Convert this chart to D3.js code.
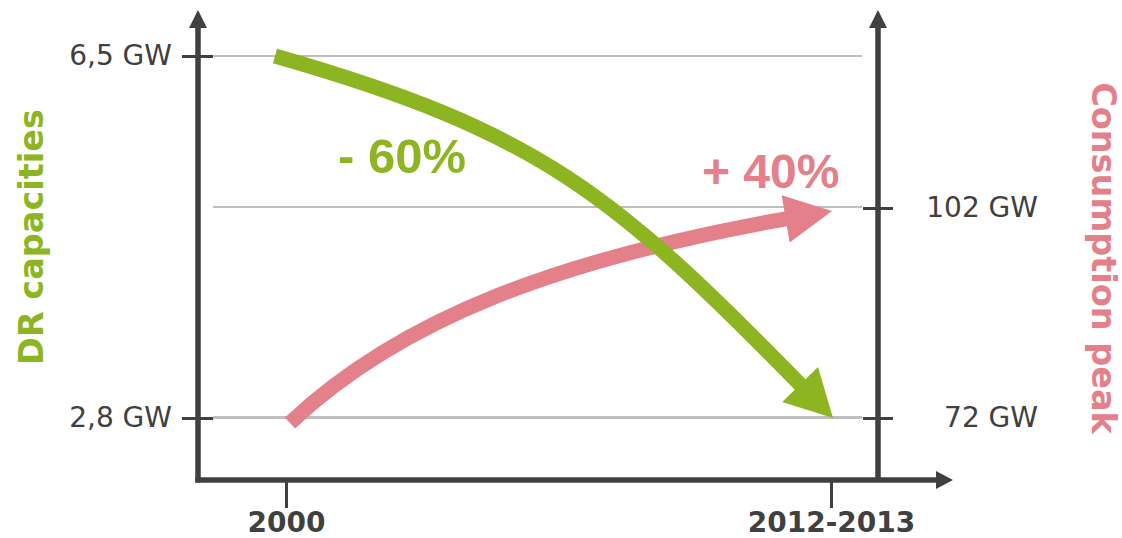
<!DOCTYPE html>
<html>
<head>
<meta charset="utf-8">
<script src="https://cdn.jsdelivr.net/npm/d3@7"></script>
<style>
  html, body { margin: 0; padding: 0; background: #ffffff; }
  svg { display: block; }
</style>
</head>
<body>
<svg id="chart" width="1122" height="538"></svg>
<script>
// ---------------- DATA ----------------
const periods = ["2000", "2012-2013"];
const drCapacities = [6.5, 2.8];          // GW (left axis)
const consumptionPeak = [72, 102];        // GW (right axis)
const leftTickValues = [2.8, 6.5];
const leftTickLabels = ["2,8 GW", "6,5 GW"];
const rightTickValues = [72, 102];
const rightTickLabels = ["72 GW", "102 GW"];
const changeLabels = ["- 60%", "+ 40%"];
const leftTitle = "DR capacities";
const rightTitle = "Consumption peak";

// ---------------- STYLE ----------------
const GREEN = "#8cb521";
const PINK = "#e4808a";
const AXIS = "#404040";
const GRID = "#bfbfbf";
const TICK_FONT = "'DejaVu Sans', Verdana, sans-serif";
const BIG_FONT = "'Liberation Sans', Arial, sans-serif";

const svg = d3.select("#chart");

// ---------------- SCALES ----------------
const x = d3.scalePoint().domain(periods).range([286, 831]);
const yL = d3.scaleLinear().domain([2.8, 6.5]).range([418, 56]);
const yR = d3.scaleLinear().domain([72, 102]).range([418, 208]);

const axisLeftX = 198, axisRightX = 878, axisBottomY = 480;

// ---------------- GRIDLINES ----------------
const gridG = svg.append("g");
gridG.selectAll("line.gl").data(leftTickValues).join("line")
  .attr("x1", 213).attr("x2", 862)
  .attr("y1", d => yL(d)).attr("y2", d => yL(d))
  .attr("stroke", GRID).attr("stroke-width", 2);
gridG.selectAll("line.gr").data(rightTickValues).join("line")
  .attr("x1", 213).attr("x2", 862)
  .attr("y1", d => yR(d) - 1).attr("y2", d => yR(d) - 1)
  .attr("stroke", GRID).attr("stroke-width", 2);

// ---------------- AXES ----------------
function styleAxis(g) {
  g.select(".domain").remove();
  g.selectAll(".tick line").attr("stroke", AXIS).attr("stroke-width", 3);
  g.selectAll(".tick text").attr("fill", AXIS).style("font-family", TICK_FONT).style("font-size", "28px");
}

const gl = svg.append("g").attr("transform", `translate(${axisLeftX},0)`)
  .call(d3.axisLeft(yL).tickValues(leftTickValues).tickFormat((d, i) => leftTickLabels[i]).tickSize(16).tickPadding(10));
styleAxis(gl);
gl.selectAll(".tick line").attr("x1", 15).attr("x2", -16);
gl.selectAll(".tick text").attr("x", -26);

const gr = svg.append("g").attr("transform", `translate(${axisRightX},0)`)
  .call(d3.axisRight(yR).tickValues(rightTickValues).tickFormat((d, i) => rightTickLabels[i]).tickSize(15));
styleAxis(gr);
gr.selectAll(".tick line").attr("x1", -15).attr("x2", 15);
gr.selectAll(".tick text").attr("x", 160).attr("text-anchor", "end");

const gb = svg.append("g").attr("transform", `translate(0,${axisBottomY})`)
  .call(d3.axisBottom(x).tickSize(28));
styleAxis(gb);
gb.selectAll(".tick text").attr("y", 52).attr("dy", 0).style("font-weight", "bold");

// axis lines with arrowheads
const axisG = svg.append("g");
axisG.append("path")
  .attr("d", `M${axisLeftX},${axisBottomY + 2.5}V26`)
  .attr("stroke", AXIS).attr("stroke-width", 5.5).attr("fill", "none");
axisG.append("path")
  .attr("d", `M${axisLeftX},10L${axisLeftX + 9},28L${axisLeftX - 9},28Z`).attr("fill", AXIS);
axisG.append("path")
  .attr("d", `M${axisRightX},${axisBottomY}V26`)
  .attr("stroke", AXIS).attr("stroke-width", 5.5).attr("fill", "none");
axisG.append("path")
  .attr("d", `M${axisRightX},10L${axisRightX + 9},28L${axisRightX - 9},28Z`).attr("fill", AXIS);
axisG.append("path")
  .attr("d", `M${axisLeftX - 2.75},${axisBottomY}H938`)
  .attr("stroke", AXIS).attr("stroke-width", 5.5).attr("fill", "none");
axisG.append("path")
  .attr("d", `M953,${axisBottomY}L936,${axisBottomY - 9}L936,${axisBottomY + 9}Z`).attr("fill", AXIS);

// ---------------- CURVED ARROWS ----------------
function curvedArrow(p0, p3, c1, c2, color, width, headLen, headW) {
  const dx = p3[0] - p0[0], dy = p3[1] - p0[1];
  const p1 = [p0[0] + c1[0] * dx, p0[1] + c1[1] * dy];
  const p2 = [p3[0] - c2[0] * dx, p3[1] - c2[1] * dy];
  const path = d3.path();
  path.moveTo(p0[0], p0[1]);
  path.bezierCurveTo(p1[0], p1[1], p2[0], p2[1], p3[0], p3[1]);
  const el = svg.append("path")
    .attr("d", path.toString())
    .attr("fill", "none").attr("stroke", color).attr("stroke-width", width)
    .attr("stroke-linecap", "butt");
  const node = el.node();
  const L = node.getTotalLength();
  const base = node.getPointAtLength(L - headLen);
  el.attr("stroke-dasharray", `${L - headLen + 3} ${L}`);
  const ux = (p3[0] - base.x), uy = (p3[1] - base.y);
  const n = Math.hypot(ux, uy);
  const dxu = ux / n, dyu = uy / n;
  const bx = p3[0] - dxu * headLen, by = p3[1] - dyu * headLen;
  const px = -dyu * headW / 2, py = dxu * headW / 2;
  svg.append("path")
    .attr("d", `M${p3[0]},${p3[1]}L${bx + px},${by + py}L${bx - px},${by - py}Z`)
    .attr("fill", color);
}

// consumption peak (pink), right axis
curvedArrow(
  [x(periods[0]) + 4, yR(consumptionPeak[0]) + 5],
  [x(periods[1]) + 1, yR(consumptionPeak[1]) + 3],
  [0.22, 0.53], [0.46, 0.19], PINK, 15, 47, 48);

// DR capacities (green), left axis
curvedArrow(
  [x(periods[0]) - 11, yL(drCapacities[0])],
  [x(periods[1]) + 2, yL(drCapacities[1])],
  [0.5, 0.22], [0.38, 0.6], GREEN, 15, 47, 50);

// ---------------- CHANGE LABELS ----------------
svg.append("text").text(changeLabels[0])
  .attr("x", 338).attr("y", 173)
  .attr("fill", GREEN).style("font-family", BIG_FONT).style("font-weight", "bold").style("font-size", "49px");
svg.append("text").text(changeLabels[1])
  .attr("x", 702).attr("y", 188)
  .attr("fill", PINK).style("font-family", BIG_FONT).style("font-weight", "bold").style("font-size", "48px");

// ---------------- AXIS TITLES ----------------
svg.append("text").text(leftTitle)
  .attr("transform", "translate(43,237) rotate(-90)")
  .attr("text-anchor", "middle")
  .attr("fill", GREEN).style("font-family", TICK_FONT).style("font-weight", "bold").style("font-size", "33.5px");
svg.append("text").text(rightTitle)
  .attr("transform", "translate(1092,258) rotate(90)")
  .attr("text-anchor", "middle")
  .attr("fill", PINK).style("font-family", TICK_FONT).style("font-weight", "bold").style("font-size", "33.5px");
</script>
</body>
</html>
